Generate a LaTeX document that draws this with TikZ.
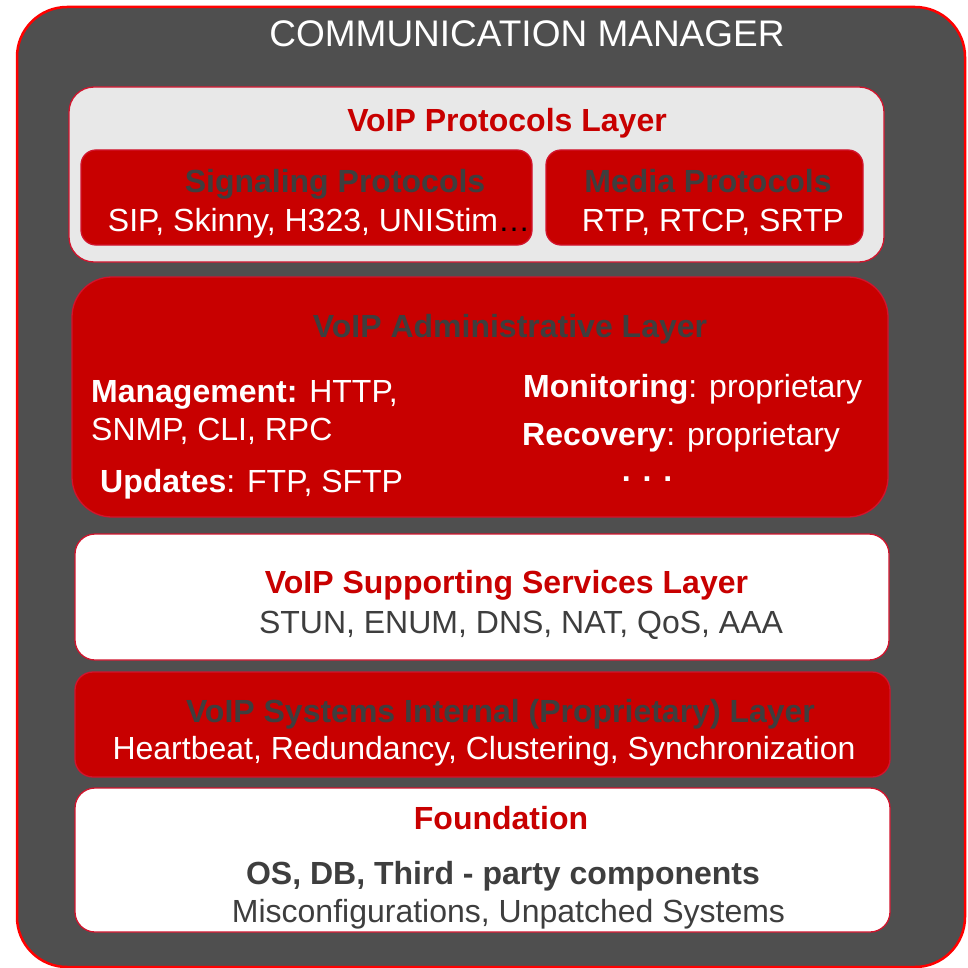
\documentclass[tikz,border=0pt]{standalone}
\usepackage{fontspec}
\setmainfont{Liberation Sans}
\usepackage{tikz}
\usetikzlibrary{positioning}
\definecolor{managerGray}{RGB}{79,79,79}
\definecolor{voipRed}{RGB}{200,0,0}
\definecolor{edgeRed}{RGB}{210,20,45}
\definecolor{frameRed}{RGB}{255,0,0}
\definecolor{panelGray}{RGB}{232,232,232}
\definecolor{darkText}{RGB}{62,62,62}

\begin{document}
\begin{tikzpicture}[x=1pt,y=-1pt,
    layer/.style={draw=edgeRed,line width=1.3pt,inner sep=0pt},
    body/.style={font=\fontsize{32}{38}\selectfont,inner sep=0pt,anchor=base},
    head/.style={body,font=\fontsize{32}{38}\selectfont\bfseries}
  ]
  \useasboundingbox (0,0) rectangle (967,968);
  \node[draw=frameRed,line width=2.5pt,fill=managerGray,rounded corners=50pt,
        minimum width=948pt,minimum height=960pt,inner sep=0pt] (manager) at (491,487) {};
  \node[body,text=white,font=\fontsize{37}{44}\selectfont] (managerTitle) at (527,47) {COMMUNICATION MANAGER};

  \node[layer,fill=panelGray,rounded corners=25pt,minimum width=815pt,minimum height=175pt] (proto) at (476.5,174.5) {};
  \node[head,text=voipRed] (protoTitle) at (507,132) {VoIP Protocols Layer};
  \node[layer,fill=voipRed,rounded corners=15pt,minimum width=451pt,minimum height=95pt] (signaling) at (306.5,197.5) {};
  \node[head,text=darkText] (signalingTitle) at (335,193) {Signaling Protocols};
  \node[body,text=white] (signalingList) at (319,232) {SIP, Skinny, H323, UNIStim\textcolor{black}{…}};
  \node[layer,fill=voipRed,rounded corners=15pt,minimum width=317pt,minimum height=95pt] (media) at (704.5,197.5) {};
  \node[head,text=darkText] (mediaTitle) at (708,193) {Media Protocols};
  \node[body,text=white] (mediaList) at (713,232) {RTP, RTCP, SRTP};

  \node[layer,fill=voipRed,rounded corners=40pt,minimum width=816pt,minimum height=240pt] (admin) at (480,397) {};
  \node[head,text=darkText] (adminTitle) at (510,337) {VoIP Administrative Layer};
  \node[body,text=white,anchor=base west] (management) at (91,402) {\textbf{Management:} HTTP,};
  \node[body,text=white,anchor=base west] (managementMore) at (91,440) {SNMP, CLI, RPC};
  \node[body,text=white,anchor=base west] (updates) at (100,492) {\textbf{Updates}: FTP, SFTP};
  \node[body,text=white,anchor=base west] (monitoring) at (523,397) {\textbf{Monitoring}: proprietary};
  \node[body,text=white,anchor=base west] (recovery) at (522,445) {\textbf{Recovery}: proprietary};
  \node[head,text=white] (adminMore) at (647,481) {. . .};

  \node[layer,fill=white,rounded corners=20pt,minimum width=814pt,minimum height=126pt] (support) at (482,597) {};
  \node[head,text=voipRed] (supportTitle) at (506.5,593) {VoIP Supporting Services Layer};
  \node[body,text=darkText] (supportList) at (521,633) {STUN, ENUM, DNS, NAT, QoS, AAA};

  \node[layer,fill=voipRed,rounded corners=18pt,minimum width=815pt,minimum height=105pt] (internal) at (482.5,724.5) {};
  \node[head,text=darkText] (internalTitle) at (500.5,722) {VoIP Systems Internal (Proprietary) Layer};
  \node[body,text=white] (internalList) at (484,759) {Heartbeat, Redundancy, Clustering, Synchronization};

  \node[layer,fill=white,rounded corners=20pt,minimum width=815pt,minimum height=144pt] (foundation) at (482.5,860) {};
  \node[head,text=voipRed] (foundationTitle) at (501,829) {Foundation};
  \node[head,text=darkText] (foundationParts) at (503,884) {OS, DB, Third - party components};
  \node[body,text=darkText] (foundationRisks) at (508.5,922) {Misconfigurations, Unpatched Systems};
\end{tikzpicture}
\end{document}
